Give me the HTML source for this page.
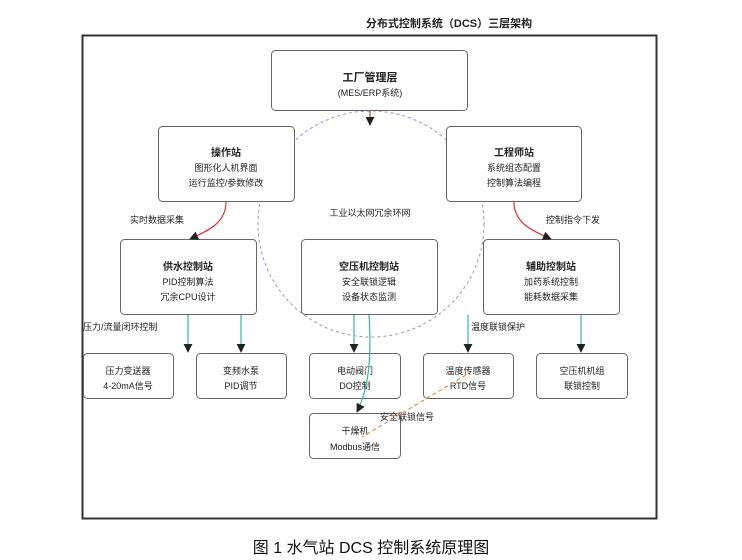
<!DOCTYPE html>
<html><head><meta charset="utf-8"><style>
html,body{margin:0;padding:0;background:#fff;}
svg{display:block;font-family:"Liberation Sans","Noto Sans CJK SC",sans-serif;}
</style></head><body>
<svg width="742" height="560" viewBox="0 0 742 560" xmlns="http://www.w3.org/2000/svg">
<defs>
<marker id="ah" viewBox="0 0 10 10" refX="9" refY="5" markerWidth="9" markerHeight="9" orient="auto" markerUnits="userSpaceOnUse"><path d="M0,0 L10,5 L0,10 z" fill="#222"/></marker>
</defs>
<text x="449" y="27" font-size="11" font-weight="bold" text-anchor="middle" fill="#222">分布式控制系统（DCS）三层架构</text>
<rect x="82.5" y="35.5" width="574" height="483" fill="none" stroke="#333" stroke-width="2"/>
<circle cx="371" cy="224" r="113" fill="none" stroke="#a78bd0" stroke-width="1" stroke-dasharray="3,3"/>
<g fill="#fff" stroke="#666" stroke-width="1">
<rect x="271.5" y="50.5" width="196" height="60" rx="4"/>
<rect x="158.5" y="126.5" width="136" height="75" rx="4"/>
<rect x="446.5" y="126.5" width="135" height="75" rx="4"/>
<rect x="120.5" y="239.5" width="136" height="75" rx="4"/>
<rect x="301.5" y="239.5" width="136" height="75" rx="4"/>
<rect x="483.5" y="239.5" width="136" height="75" rx="4"/>
<rect x="83.5" y="353.5" width="90" height="45" rx="4"/>
<rect x="196.5" y="353.5" width="90" height="45" rx="4"/>
<rect x="309.5" y="353.5" width="91" height="45" rx="4"/>
<rect x="423.5" y="353.5" width="90" height="45" rx="4"/>
<rect x="536.5" y="353.5" width="91" height="45" rx="4"/>
<rect x="309.5" y="413.5" width="91" height="45" rx="4"/>
</g>
<g fill="#222" text-anchor="middle" font-size="9">
<text x="370" y="81" font-size="11" font-weight="bold">工厂管理层</text>
<text x="370" y="96">(MES/ERP系统)</text>
<text x="226" y="156" font-size="10" font-weight="bold">操作站</text>
<text x="226" y="171">图形化人机界面</text>
<text x="226" y="186">运行监控/参数修改</text>
<text x="514" y="156" font-size="10" font-weight="bold">工程师站</text>
<text x="514" y="171">系统组态配置</text>
<text x="514" y="186">控制算法编程</text>
<text x="188" y="270" font-size="10" font-weight="bold">供水控制站</text>
<text x="188" y="285">PID控制算法</text>
<text x="188" y="300">冗余CPU设计</text>
<text x="369" y="270" font-size="10" font-weight="bold">空压机控制站</text>
<text x="369" y="285">安全联锁逻辑</text>
<text x="369" y="300">设备状态监测</text>
<text x="551" y="270" font-size="10" font-weight="bold">辅助控制站</text>
<text x="551" y="285">加药系统控制</text>
<text x="551" y="300">能耗数据采集</text>
<text x="128" y="374">压力变送器</text><text x="128" y="389">4-20mA信号</text>
<text x="241" y="374">变频水泵</text><text x="241" y="389">PID调节</text>
<text x="355" y="374">电动阀门</text><text x="355" y="389">DO控制</text>
<text x="468" y="374">温度传感器</text><text x="468" y="389">RTD信号</text>
<text x="582" y="374">空压机机组</text><text x="582" y="389">联锁控制</text>
<text x="355" y="434">干燥机</text><text x="355" y="450">Modbus通信</text>
<text x="370" y="216">工业以太网冗余环网</text>
</g>
<g fill="#222" font-size="9">
<text x="130" y="223">实时数据采集</text>
<text x="546" y="223">控制指令下发</text>
<text x="83" y="330">压力/流量闭环控制</text>
<text x="471" y="330">温度联锁保护</text>
<text x="380" y="420">安全联锁信号</text>
</g>
<g fill="none" stroke-width="1.2">
<path d="M370,111 L370,125" stroke="#d33" marker-end="url(#ah)"/>
<path d="M226,202 C226,222 210,230 190,239" stroke="#d33" marker-end="url(#ah)"/>
<path d="M514,202 C514,222 530,230 551,239" stroke="#d33" marker-end="url(#ah)"/>
<path d="M188,315 L188,352" stroke="#3b9" marker-end="url(#ah)"/>
<path d="M241,315 L241,352" stroke="#3b9" marker-end="url(#ah)"/>
<path d="M354,315 L354,352" stroke="#3b9" marker-end="url(#ah)"/>
<path d="M369,315 C372,360 368,390 357,412" stroke="#3b9" marker-end="url(#ah)"/>
<path d="M468,315 L468,352" stroke="#3b9" marker-end="url(#ah)"/>
<path d="M581,315 L581,352" stroke="#3b9" marker-end="url(#ah)"/>
<path d="M466,375 L362,437" stroke="#e8924a" stroke-dasharray="4,3"/>
</g>
<text x="371" y="553" font-size="16" text-anchor="middle" fill="#111" font-family="'Liberation Sans','Noto Sans CJK SC',sans-serif">图 1  水气站 DCS 控制系统原理图</text>
</svg>
</body></html>
